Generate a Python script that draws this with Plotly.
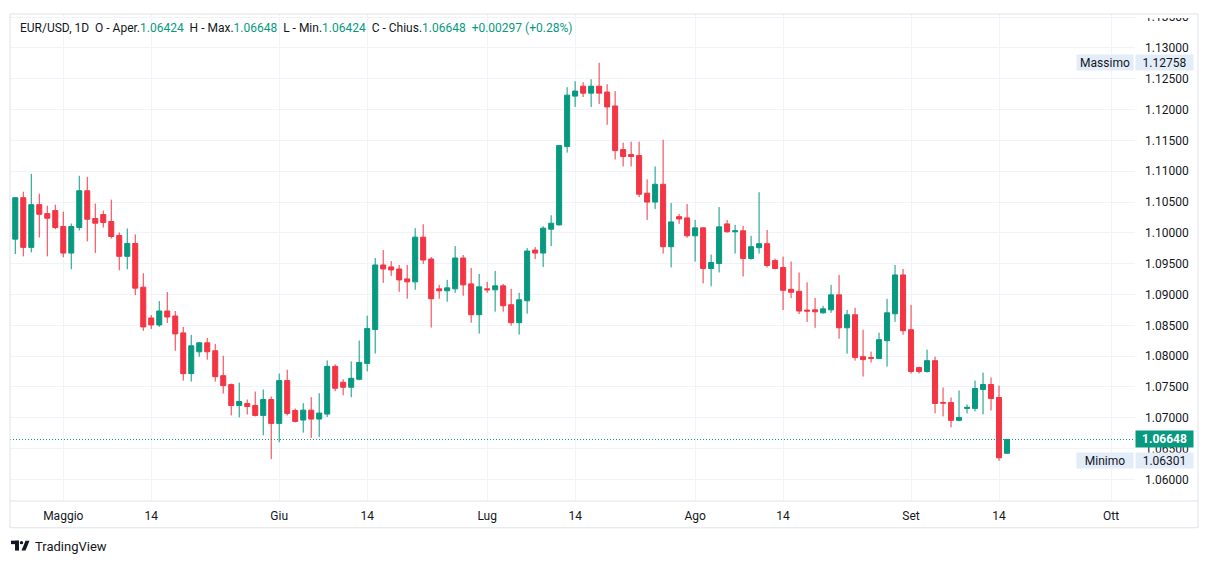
import plotly.graph_objects as go
import pandas as pd

# ---- data ----
start_date = "2023-04-24"
opens = [1.09898,1.10570,1.09764,1.10457,1.10312,1.10361,1.10103,1.09672,1.10086,1.10683,
         1.10232,1.10296,1.10183,1.09957,1.09619,1.09828,1.09119,1.08619,1.08506,1.08732,
         1.08651,1.08377,1.07716,1.08070,1.08216,1.08087,1.07683,1.07538,1.07200,1.07232,
         1.07200,1.07038,1.07296,1.06909,1.07603,1.07119,1.06963,1.07124,1.06979,1.07060,
         1.07834,1.07576,1.07495,1.07624,1.07882,1.08431,1.09479,1.09447,1.09414,1.09253,
         1.09205,1.09930,1.09576,1.09092,1.09060,1.09092,1.09592,1.09172,1.08672,1.09092,
         1.09076,1.09140,1.08834,1.08543,1.08898,1.09721,1.09672,1.10059,1.10129,1.11399,
         1.12218,1.12379,1.12266,1.12379,1.12283,1.12058,1.11350,1.11270,1.11254,1.10643,
         1.10499,1.10788,1.09775,1.10263,1.10242,1.09952,1.10081,1.09422,1.09502,1.10145,
         1.10017,1.10033,1.09583,1.09759,1.09824,1.09550,1.09438,1.09084,1.09052,1.08747,
         1.08751,1.08703,1.08751,1.08994,1.08460,1.08671,1.07992,1.07976,1.07960,1.08250,
         1.08687,1.09317,1.08428,1.07814,1.07750,1.07927,1.07249,1.07249,1.06958,1.07152,
         1.07152,1.07459,1.07540,1.07329,1.06424]
highs = [1.10580,1.10667,1.10957,1.10635,1.10441,1.10457,1.10344,1.10151,1.10925,1.10909,
         1.10474,1.10361,1.10538,1.10006,1.10070,1.09974,1.09345,1.08667,1.08893,1.09038,
         1.08732,1.08474,1.08345,1.08232,1.08296,1.08199,1.08006,1.07554,1.07570,1.07296,
         1.07425,1.07458,1.07345,1.07716,1.07780,1.07151,1.07237,1.07334,1.07398,1.07931,
         1.07866,1.07624,1.07914,1.08253,1.08656,1.09592,1.09721,1.09543,1.09479,1.09479,
         1.10076,1.10140,1.09608,1.09156,1.09237,1.09785,1.09640,1.09430,1.09334,1.09205,
         1.09382,1.09172,1.09092,1.09027,1.09753,1.09769,1.10108,1.10285,1.11420,1.12363,
         1.12459,1.12443,1.12491,1.12758,1.12411,1.12299,1.11463,1.11479,1.11479,1.10868,
         1.11077,1.11511,1.10483,1.10306,1.10467,1.10209,1.10090,1.09647,1.10418,1.10209,
         1.10129,1.10113,1.09952,1.10659,1.10048,1.09583,1.09615,1.09534,1.09358,1.09197,
         1.08945,1.08816,1.09155,1.09317,1.08751,1.08784,1.08428,1.08073,1.08380,1.08929,
         1.09478,1.09414,1.08832,1.07830,1.08105,1.07992,1.07491,1.07329,1.07443,1.07216,
         1.07604,1.07733,1.07653,1.07523,1.06648]
lows = [1.09656,1.09619,1.09683,1.09925,1.09619,1.10060,1.09603,1.09409,1.10038,1.09861,
        1.09672,1.10086,1.09909,1.09393,1.09409,1.08990,1.08409,1.08441,1.08474,1.08538,
        1.08087,1.07603,1.07587,1.07990,1.07941,1.07587,1.07393,1.07038,1.07006,1.07054,
        1.07022,1.06716,1.06329,1.06603,1.07038,1.06925,1.06759,1.06673,1.06689,1.07011,
        1.07431,1.07366,1.07334,1.07608,1.07753,1.08043,1.09189,1.09301,1.09043,1.08931,
        1.09076,1.09495,1.08463,1.08931,1.08882,1.09027,1.08979,1.08543,1.08366,1.09027,
        1.08721,1.08721,1.08495,1.08350,1.08689,1.09576,1.09447,1.09785,1.10120,1.11302,
        1.12042,1.12202,1.12042,1.12090,1.11752,1.11190,1.11077,1.11077,1.10579,1.10209,
        1.10386,1.09663,1.09438,1.10145,1.09920,1.09534,1.09181,1.09133,1.09358,1.10005,
        1.09663,1.09293,1.09567,1.09663,1.09438,1.09406,1.08747,1.08940,1.08683,1.08554,
        1.08460,1.08687,1.08703,1.08283,1.08040,1.07927,1.07669,1.07895,1.07955,1.07830,
        1.08557,1.08347,1.07717,1.07717,1.07733,1.07071,1.07022,1.06845,1.06942,1.07071,
        1.07103,1.07055,1.07119,1.06301,1.06424]
closes = [1.10570,1.09764,1.10457,1.10301,1.10237,1.10086,1.09672,1.10103,1.10683,1.10221,
          1.10156,1.10167,1.09941,1.09619,1.09828,1.09103,1.08474,1.08506,1.08732,1.08635,
          1.08361,1.07716,1.08167,1.08216,1.08070,1.07667,1.07522,1.07200,1.07264,1.07183,
          1.07038,1.07296,1.06909,1.07603,1.07071,1.06941,1.07124,1.06979,1.07076,1.07834,
          1.07479,1.07495,1.07640,1.07898,1.08447,1.09479,1.09414,1.09398,1.09237,1.09205,
          1.09930,1.09559,1.08931,1.09060,1.09108,1.09592,1.09156,1.08672,1.09124,1.09076,
          1.09140,1.08818,1.08543,1.08914,1.09705,1.09672,1.10076,1.10156,1.11415,1.12234,
          1.12299,1.12266,1.12379,1.12266,1.12042,1.11334,1.11238,1.11238,1.10627,1.10499,
          1.10788,1.09775,1.10177,1.10225,1.09952,1.10081,1.09422,1.09518,1.10097,1.10017,
          1.10033,1.09583,1.09775,1.09824,1.09470,1.09422,1.09068,1.09036,1.08731,1.08731,
          1.08719,1.08767,1.08994,1.08460,1.08671,1.07976,1.07943,1.07965,1.08267,1.08703,
          1.09317,1.08412,1.07750,1.07750,1.07927,1.07232,1.07238,1.06958,1.07006,1.07168,
          1.07475,1.07540,1.07313,1.06351,1.06648]

month_labels = ["Maggio", "14", "Giu", "14", "Lug", "14", "Ago", "14", "Set", "14", "Ott"]
month_dates = ["2023-05-01", "2023-05-14", "2023-06-01", "2023-06-14", "2023-07-02", "2023-07-14",
               "2023-08-01", "2023-08-14", "2023-09-01", "2023-09-14", "2023-10-01"]
y_ticks = [1.060, 1.065, 1.070, 1.075, 1.080, 1.085, 1.090, 1.095, 1.100, 1.105,
           1.110, 1.115, 1.120, 1.125, 1.130, 1.135]
last_price = 1.06648
max_price = 1.12758
min_price = 1.06301

# trading sessions (feed shows Sun-Fri bars, no Saturday)
all_days = pd.date_range(start_date, "2023-10-15", freq="D")
sessions = [d for d in all_days if d.weekday() != 5]
pos_of = {d.strftime("%Y-%m-%d"): i for i, d in enumerate(sessions)}
dates = [d.strftime("%Y-%m-%d") for d in sessions[:len(opens)]]
xpos = list(range(len(opens)))
tickvals = [pos_of[d] for d in month_dates]

GREEN = "#089981"
RED = "#F23645"
GRID = "#f0f3fa"
BORDER = "#e0e3eb"
TXT = "#131722"

fig = go.Figure()
fig.add_trace(go.Candlestick(
    x=xpos, open=opens, high=highs, low=lows, close=closes,
    text=dates, hoverinfo="text+y",
    increasing=dict(line=dict(color=GREEN, width=1), fillcolor=GREEN),
    decreasing=dict(line=dict(color=RED, width=1), fillcolor=RED),
    whiskerwidth=0, showlegend=False,
))

# the page body adds an 8px offset; work in screen pixels and shift
OFF = 8
W, H = 1209 - 2 * OFF, 564 - 2 * OFF
L, R, T, B = 10, 1135, 10, 501  # screen px of plot area

def X(px):
    return (px - L) / (R - L)

def Y(py):
    return (B - py) / (B - T)

fig.update_layout(
    width=W, height=H,
    margin=dict(l=L - OFF, r=W - (R - OFF), t=T - OFF, b=H - (B - OFF)),
    paper_bgcolor="white", plot_bgcolor="white",
    font=dict(family="Roboto, Arial, sans-serif", size=12, color=TXT),
    boxgap=0.3, boxgroupgap=0.1,
    showlegend=False,
    xaxis=dict(
        range=[-0.66, 140.0], rangeslider=dict(visible=False),
        tickmode="array", tickvals=tickvals, ticktext=month_labels,
        showgrid=True, gridcolor=GRID, gridwidth=1, zeroline=False,
        showline=False, ticks="", ticklabelstandoff=6,
        tickfont=dict(size=12, color=TXT),
    ),
    yaxis=dict(
        side="right", range=[1.0565, 1.1355],
        tickmode="array", tickvals=y_ticks, tickformat=".5f",
        showgrid=True, gridcolor=GRID, gridwidth=1, zeroline=False,
        showline=False, ticks="", ticklabelstandoff=9, ticklabeloverflow="allow",
        tickfont=dict(size=12, color=TXT),
    ),
)

shapes = []
# last price dotted line
shapes.append(dict(type="line", xref="paper", yref="y", x0=0, x1=1, y0=last_price, y1=last_price,
                   line=dict(color=GREEN, width=1, dash="1px,2px"), layer="above"))
# mask above frame (top tick label is clipped by the frame)
shapes.append(dict(type="rect", xref="paper", yref="paper", x0=X(1136), x1=X(1205), y0=Y(14), y1=Y(0),
                   line=dict(width=0), fillcolor="white", layer="above"))
# frame
shapes.append(dict(type="rect", xref="paper", yref="paper", x0=X(10), x1=X(1198), y0=Y(10), y1=Y(528),
                   line=dict(color=BORDER, width=1), layer="above"))
shapes.append(dict(type="line", xref="paper", yref="paper", x0=X(10), x1=X(1198), y0=Y(501), y1=Y(501),
                   line=dict(color=BORDER, width=1), layer="above"))
# TradingView logo glyph
shapes.append(dict(type="rect", xref="paper", yref="paper", x0=X(11), x1=X(19), y0=Y(541), y1=Y(544.5),
                   line=dict(width=0), fillcolor=TXT))
shapes.append(dict(type="rect", xref="paper", yref="paper", x0=X(15), x1=X(19), y0=Y(541), y1=Y(551),
                   line=dict(width=0), fillcolor=TXT))
shapes.append(dict(type="circle", xref="paper", yref="paper", x0=X(19.8), x1=X(23.2), y0=Y(541.3), y1=Y(544.7),
                   line=dict(width=0), fillcolor=TXT))
shapes.append(dict(type="path", xref="paper", yref="paper",
                   path=f"M {X(21.5)},{Y(551)} L {X(25.5)},{Y(551)} L {X(29.5)},{Y(541)} L {X(25.5)},{Y(541)} Z",
                   line=dict(width=0), fillcolor=TXT))
fig.update_layout(shapes=shapes)

G = lambda s: f"<span style='color:{GREEN}'>{s}</span>"
sp = "\u00a0\u00a0"
title = ("EUR/USD, 1D" + sp + "O - Aper." + G(f"{opens[-1]:.5f}") + sp + "H - Max." + G(f"{highs[-1]:.5f}") +
         sp + "L - Min." + G(f"{lows[-1]:.5f}") + sp + "C - Chius." + G(f"{closes[-1]:.5f}") + sp +
         G(f"+{closes[-1]-closes[-2]:.5f} (+{(closes[-1]/closes[-2]-1)*100:.2f}%)"))

LBL_BG = "#e3ecf9"
box = dict(showarrow=False, xanchor="center", yanchor="middle", borderpad=0)
ann = [
    dict(text=title, xref="paper", yref="paper", x=X(18), y=Y(24), xanchor="left", yanchor="middle",
         showarrow=False, font=dict(size=12, color=TXT)),
    dict(text="Massimo", xref="paper", yref="y", x=X(1105), y=max_price,
         bgcolor=LBL_BG, width=56, height=15, font=dict(size=12, color=TXT), **box),
    dict(text=f"{max_price:.5f}", xref="paper", yref="y", x=X(1164.5), y=max_price,
         bgcolor=LBL_BG, width=57, height=15, font=dict(size=12, color=TXT), **box),
    dict(text="Minimo", xref="paper", yref="y", x=X(1105), y=min_price,
         bgcolor=LBL_BG, width=56, height=15, font=dict(size=12, color=TXT), **box),
    dict(text=f"{min_price:.5f}", xref="paper", yref="y", x=X(1164.5), y=min_price,
         bgcolor=LBL_BG, width=57, height=15, font=dict(size=12, color=TXT), **box),
    dict(text=f"<b>{last_price:.5f}</b>", xref="paper", yref="y", x=X(1164.5), y=last_price,
         bgcolor=GREEN, width=57, height=16, font=dict(size=12, color="white"), **box),
    dict(text="TradingView", xref="paper", yref="paper", x=X(33), y=Y(546.5), xanchor="left", yanchor="middle",
         showarrow=False, font=dict(size=13, color=TXT)),
]
fig.update_layout(annotations=ann)

fig.write_html("out.html")
